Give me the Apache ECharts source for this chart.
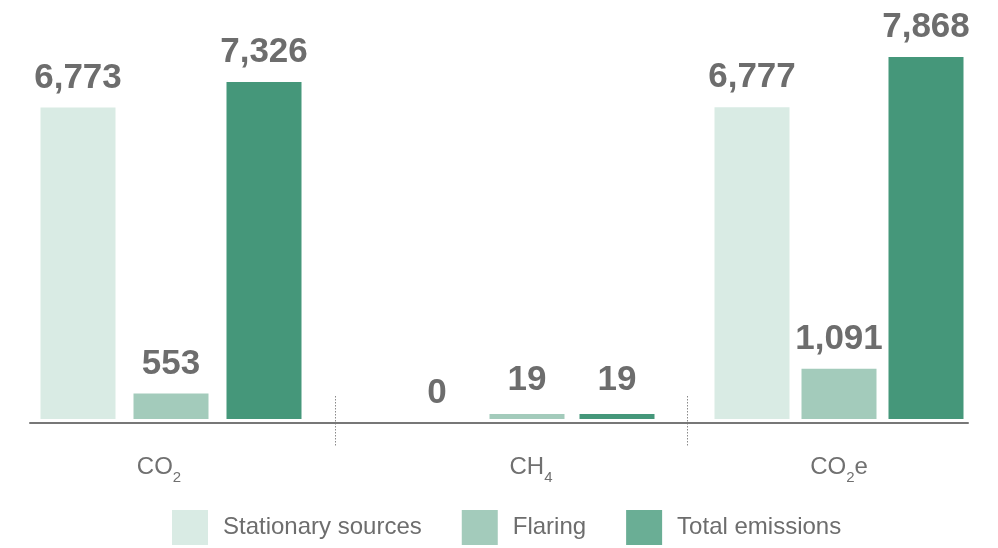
<!DOCTYPE html>
<html>
<head>
<meta charset="utf-8">
<script src="https://cdn.jsdelivr.net/npm/echarts@6/dist/echarts.min.js"></script>
<style>html,body{margin:0;padding:0;background:#fff;}#c{width:998px;height:548px;}</style>
</head>
<body>
<div id="c"></div>
<script>
var categories = ['CO2', 'CH4', 'CO2e'];
var categoryLabels = ['{a|CO}{b|2}', '{a|CH}{b|4}', '{a|CO}{b|2}{a|e}'];
var seriesNames = ['Stationary sources', 'Flaring', 'Total emissions'];
var stationary = [6773, 0, 6777];
var flaring = [553, 19, 1091];
var total = [7326, 19, 7868];

var barColors = ['#d9ebe4', '#a3cbbb', '#45977a'];
var legendColors = ['#d9ebe4', '#a3cbbb', '#6aae95'];
var valueSets = [stationary, flaring, total];

var FONT = '"Liberation Sans", Arial, sans-serif';
var grids = [
  {left: 30, width: 282, top: 51, bottom: 129},
  {left: 347, width: 360, top: 51, bottom: 129},
  {left: 714, width: 250, top: 51, bottom: 129},
  {left: 30, width: 938, top: 51, bottom: 125}
];
var barGaps = ['24%', '20%', '16%'];
var labelPad = [[0, 24, 0, 0], [0, 0, 0, 8], [0, 0, 0, 0]];

var xAxes = [], yAxes = [], series = [];
for (var g = 0; g < 3; g++) {
  xAxes.push({
    type: 'category', gridIndex: g, data: [categories[g]],
    axisLine: {show: false}, axisTick: {show: false},
    axisLabel: {
      margin: 34, padding: labelPad[g],
      formatter: (function (k) { return function () { return categoryLabels[k]; }; })(g),
      rich: {
        a: {fontFamily: FONT, fontSize: 24, color: '#707070', lineHeight: 26, verticalAlign: 'bottom'},
        b: {fontFamily: FONT, fontSize: 15, color: '#707070', lineHeight: 10, verticalAlign: 'bottom', padding: [0, 0, -6, 0]}
      }
    }
  });
  yAxes.push({type: 'value', gridIndex: g, min: 0, max: 8000, show: false, splitLine: {show: false}});
  for (var s = 0; s < 3; s++) {
    var v = valueSets[s][g];
    series.push({
      name: seriesNames[s], type: 'bar', xAxisIndex: g, yAxisIndex: g,
      data: [v], barWidth: 75, barGap: barGaps[g],
      barMinHeight: (s > 0 ? 5 : 0),
      itemStyle: {color: barColors[s]},
      emphasis: {disabled: true},
      label: {
        show: true, position: 'top', distance: (v === 0 ? 8 : (g === 1 ? 16 : 12)),
        fontFamily: FONT, fontWeight: 'bold', fontSize: 35, color: '#6d6d6d',
        formatter: function (p) { return Number(p.value).toLocaleString('en-US'); }
      }
    });
  }
}
// baseline axis spanning the whole chart
xAxes.push({type: 'category', gridIndex: 3, data: [''], axisLine: {show: true, lineStyle: {color: '#777', width: 2}}, axisTick: {show: false}, axisLabel: {show: false}});
yAxes.push({type: 'value', gridIndex: 3, show: false, splitLine: {show: false}});

var chart = echarts.init(document.getElementById('c'), null, {renderer: 'canvas'});
chart.setOption({
  animation: false,
  grid: grids,
  xAxis: xAxes,
  yAxis: yAxes,
  legend: {
    left: 167, top: 505, itemWidth: 36, itemHeight: 35, itemGap: 40,
    icon: 'rect',
    textStyle: {fontFamily: FONT, fontSize: 24, color: '#6d6d6d', padding: [0, 0, 0, 10]},
    data: seriesNames.map(function (n, i) { return {name: n, itemStyle: {color: legendColors[i]}}; })
  },
  series: series,
  graphic: [
    {type: 'line', shape: {x1: 335.5, y1: 396, x2: 335.5, y2: 446}, style: {stroke: '#8a8a8a', lineWidth: 1, lineDash: [1.5, 1.5]}},
    {type: 'line', shape: {x1: 687.5, y1: 396, x2: 687.5, y2: 446}, style: {stroke: '#8a8a8a', lineWidth: 1, lineDash: [1.5, 1.5]}}
  ]
});
</script>
</body>
</html>
